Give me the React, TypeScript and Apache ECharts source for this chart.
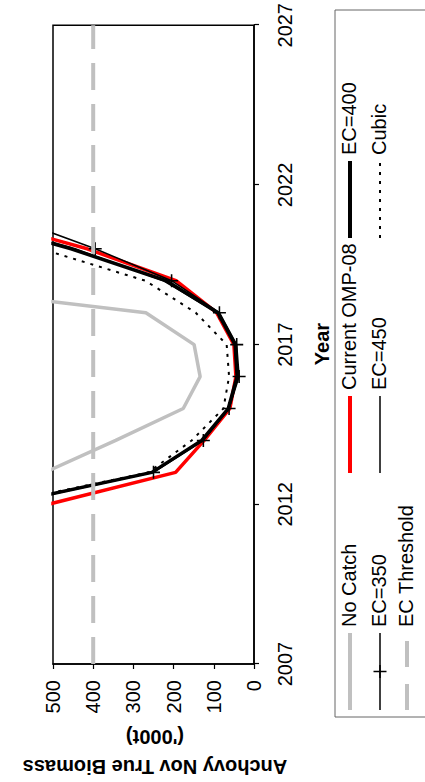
import React, { useEffect, useRef } from "react";
import * as echarts from "echarts";

// ---- data ----
const years = [2012, 2013, 2014, 2015, 2016, 2017, 2018, 2019, 2020, 2021];
const noCatch = [null, 520, 344, 176, 134, 149, 269, 945, null, null];
const currentOMP08 = [512, 195, 124, 60, 45, 50, 93, 194, 415, 700];
const ec400 = [625, 254, 130, 64, 42, 47, 90, 218, 455, 740];
const ec350 = [620, 250, 126, 62, 37, 43, 86, 205, 395, 610];
const ec450 = [625, 252, 128, 62, 40, 45, 92, 225, 445, 720];
const cubic = [640, 262, 155, 76, 62, 68, 145, 270, 530, 850];
const thresholdYears = [2007, 2027];
const thresholdValues = [400, 400];

const yearMin = 2007;
const yearMax = 2027;
const yearStep = 5;
const bioMin = 0;
const bioMax = 500;
const bioStep = 100;

const yTitle1 = "Anchovy Nov True Biomass";
const yTitle2 = "('000t)";
const xTitle = "Year";

const FONT = "'Liberation Sans', Arial, Helvetica, sans-serif";
const GREY = "#c0c0c0";
const PLUS =
  "path://M-0.12,-1L0.12,-1L0.12,-0.12L1,-0.12L1,0.12L0.12,0.12L0.12,1L-0.12,1L-0.12,0.12L-1,0.12L-1,-0.12L-0.12,-0.12Z";

const pairs = (xs: number[], vs: (number | null)[]) => xs.map((x, i) => [x, vs[i]]);

type Sty = { color: string; width: number; dash?: number[]; plus?: boolean };
const seriesDefs: { name: string; data: (number | null)[][]; sty: Sty }[] = [
  { name: "No Catch", data: pairs(years, noCatch), sty: { color: GREY, width: 3.5 } },
  { name: "Current OMP-08", data: pairs(years, currentOMP08), sty: { color: "#ff0000", width: 3.5 } },
  { name: "EC=400", data: pairs(years, ec400), sty: { color: "#000", width: 3.5 } },
  { name: "EC=350", data: pairs(years, ec350), sty: { color: "#000", width: 1.5, plus: true } },
  { name: "EC=450", data: pairs(years, ec450), sty: { color: "#000", width: 1.5 } },
  { name: "Cubic", data: pairs(years, cubic), sty: { color: "#000", width: 2, dash: [3, 6] } },
  { name: "EC Threshold", data: pairs(thresholdYears, thresholdValues), sty: { color: GREY, width: 4, dash: [27, 14] } },
];

// legend layout (row-major like the original)
const legendCols = [72, 309, 544];
const legendRows = [350, 380, 407];
const legendSymW = 77;

export default function App() {
  const ref = useRef<HTMLDivElement>(null);
  useEffect(() => {
    const el = ref.current!;
    const chart = echarts.init(el, null, { renderer: "svg", width: 782, height: 425 });

    const legendEls: any[] = [
      {
        type: "rect",
        shape: { x: 65, y: 335, width: 707, height: 120 },
        style: { fill: "none", stroke: "#666", lineWidth: 1 },
      },
    ];
    seriesDefs.forEach((s, i) => {
      const col = i % 3;
      const row = Math.floor(i / 3);
      const x0 = legendCols[col];
      const y0 = legendRows[row];
      legendEls.push({
        type: "line",
        shape: { x1: x0, y1: y0, x2: x0 + legendSymW, y2: y0 },
        style: {
          stroke: s.sty.color,
          lineWidth: s.sty.width === 3.5 ? 4 : s.sty.width,
          lineDash: s.sty.dash ? (s.sty.dash[0] > 10 ? [26, 17] : s.sty.dash) : null,
        },
      });
      if (s.sty.plus) {
        const cx = x0 + legendSymW / 2;
        legendEls.push({ type: "line", shape: { x1: cx - 6.5, y1: y0, x2: cx + 6.5, y2: y0 }, style: { stroke: "#000", lineWidth: 1.5 } });
        legendEls.push({ type: "line", shape: { x1: cx, y1: y0 - 6.5, x2: cx, y2: y0 + 6.5 }, style: { stroke: "#000", lineWidth: 1.5 } });
      }
      legendEls.push({
        type: "text",
        style: {
          text: s.name,
          x: x0 + legendSymW + 6,
          y: y0 - 1.5,
          font: `20px ${FONT}`,
          fill: "#000",
          textAlign: "left",
          textVerticalAlign: "middle",
          verticalAlign: "middle",
        },
      });
    });

    const option: any = {
      animation: false,
      backgroundColor: "#fff",
      grid: { left: 118, right: 23, top: 53, height: 201, show: true, borderColor: "#000", borderWidth: 1.5, backgroundColor: "transparent" },
      xAxis: {
        type: "value",
        min: yearMin,
        max: yearMax,
        interval: yearStep,
        axisLine: { show: true, lineStyle: { color: "#000", width: 1.5 } },
        axisTick: { show: true, length: 5, lineStyle: { color: "#000", width: 1.2 } },
        axisLabel: { color: "#000", fontSize: 20, fontFamily: FONT, margin: 21, formatter: (v: number) => String(v) },
        splitLine: { show: false },
      },
      yAxis: {
        type: "value",
        min: bioMin,
        max: bioMax,
        interval: bioStep,
        axisLine: { show: true, lineStyle: { color: "#000", width: 1.5 } },
        axisTick: { show: true, length: 5, lineStyle: { color: "#000", width: 1.2 } },
        axisLabel: { color: "#000", fontSize: 20, fontFamily: FONT, margin: 16, formatter: (v: number) => String(v) },
        splitLine: { show: false },
      },
      series: seriesDefs.map((s, i) => ({
        name: s.name,
        type: "line",
        data: s.data,
        clip: true,
        z: 2 + i,
        symbol: s.sty.plus ? PLUS : "none",
        symbolSize: 13,
        showSymbol: !!s.sty.plus,
        itemStyle: { color: s.sty.color },
        lineStyle: { color: s.sty.color, width: s.sty.width, type: s.sty.dash ? s.sty.dash : "solid" },
        emphasis: { disabled: true },
      })),
      graphic: [
        ...legendEls,
        {
          type: "text",
          x: 15.5,
          y: 155,
          rotation: Math.PI / 2,
          style: { text: yTitle1, font: `bold 20px ${FONT}`, fill: "#000", textAlign: "center", textVerticalAlign: "middle", verticalAlign: "middle" },
        },
        {
          type: "text",
          x: 45.5,
          y: 155,
          rotation: Math.PI / 2,
          style: { text: yTitle2, font: `bold 20px ${FONT}`, fill: "#000", textAlign: "center", textVerticalAlign: "middle", verticalAlign: "middle" },
        },
        {
          type: "text",
          x: 438,
          y: 322,
          style: { text: xTitle, font: `bold 20px ${FONT}`, fill: "#000", textAlign: "center", textVerticalAlign: "middle", verticalAlign: "middle" },
        },
      ],
    };
    chart.setOption(option);
    return () => chart.dispose();
  }, []);

  return (
    <div style={{ position: "fixed", left: 0, top: 0, width: 425, height: 782, overflow: "hidden", background: "#fff" }}>
      <div
        ref={ref}
        style={{
          position: "absolute",
          left: 0,
          top: 0,
          width: 782,
          height: 425,
          transform: "translate(0px, 782px) rotate(-90deg)",
          transformOrigin: "0 0",
        }}
      />
    </div>
  );
}
